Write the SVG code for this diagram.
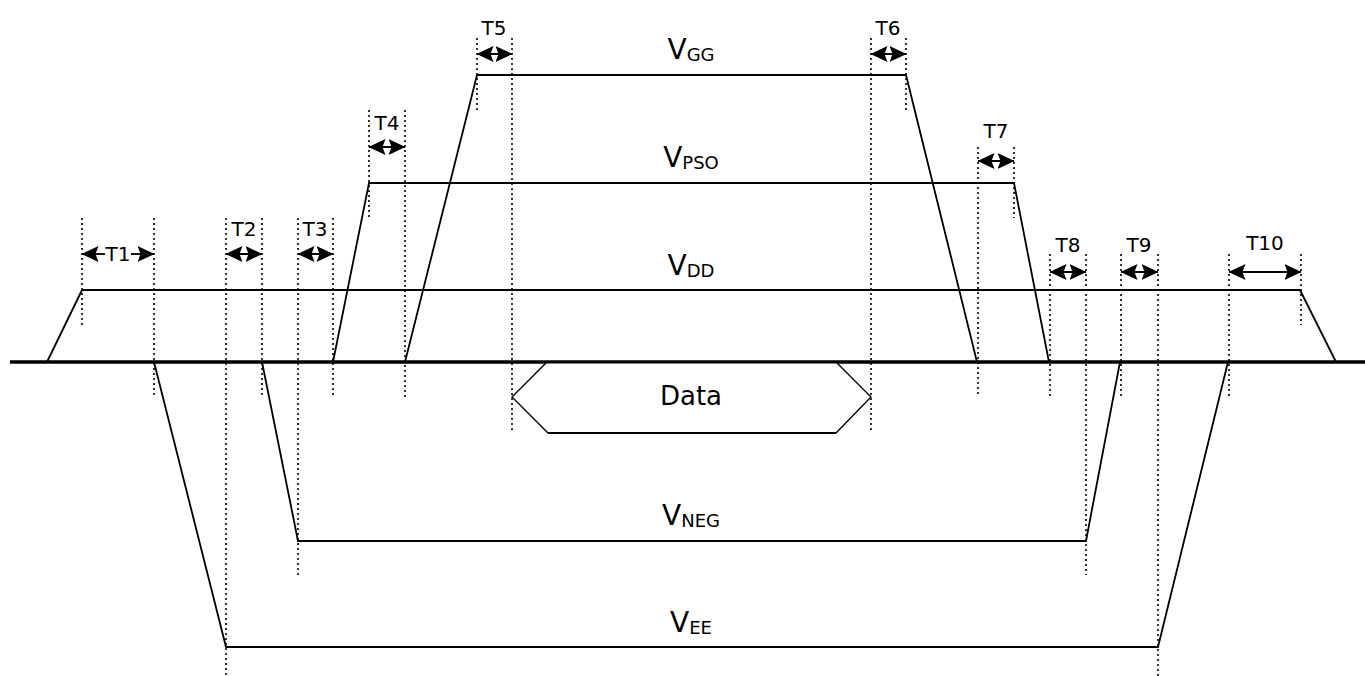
<svg xmlns="http://www.w3.org/2000/svg" width="1365" height="676" viewBox="0 0 1365 676">
<style>
.sig{fill:none;stroke:#000;stroke-width:1.8;stroke-linejoin:miter}
.base{stroke:#000;stroke-width:3}
.dot{stroke:#000;stroke-width:1.6;stroke-dasharray:2 3;fill:none}
.arr{stroke:#000;stroke-width:1.8;fill:none;marker-start:url(#ah);marker-end:url(#ah)}
.arr1{stroke:#000;stroke-width:1.8;fill:none;marker-end:url(#ah)}
.t{font-family:"DejaVu Sans",Verdana,sans-serif;font-size:20px;fill:#000;text-anchor:middle}
.v{font-family:"DejaVu Sans",Verdana,sans-serif;font-size:28px;fill:#000;text-anchor:middle}
.s{font-size:18px}
</style>
<defs>
<marker id="ah" markerUnits="userSpaceOnUse" viewBox="0 0 17 16" refX="16.5" refY="8" markerWidth="17" markerHeight="16" orient="auto-start-reverse">
<path d="M0,0 L17,8 L0,16 L3,8 Z" fill="#000"/>
</marker>
</defs>
<rect width="1365" height="676" fill="#fff"/>
<g id="guides">
<line class="dot" x1="82" y1="218" x2="82" y2="325"/>
<line class="dot" x1="154" y1="218" x2="154" y2="397"/>
<line class="dot" x1="226" y1="218" x2="226" y2="676"/>
<line class="dot" x1="262" y1="218" x2="262" y2="397"/>
<line class="dot" x1="298" y1="218" x2="298" y2="575"/>
<line class="dot" x1="333" y1="218" x2="333" y2="397"/>
<line class="dot" x1="369" y1="110" x2="369" y2="218"/>
<line class="dot" x1="405" y1="110" x2="405" y2="397"/>
<line class="dot" x1="477" y1="38" x2="477" y2="110"/>
<line class="dot" x1="512" y1="38" x2="512" y2="433"/>
<line class="dot" x1="871" y1="38" x2="871" y2="433"/>
<line class="dot" x1="906" y1="38" x2="906" y2="110"/>
<line class="dot" x1="978" y1="147" x2="978" y2="397"/>
<line class="dot" x1="1014" y1="147" x2="1014" y2="218"/>
<line class="dot" x1="1050" y1="254" x2="1050" y2="397"/>
<line class="dot" x1="1086" y1="254" x2="1086" y2="575"/>
<line class="dot" x1="1121" y1="254" x2="1121" y2="397"/>
<line class="dot" x1="1158" y1="254" x2="1158" y2="676"/>
<line class="dot" x1="1229" y1="254" x2="1229" y2="397"/>
<line class="dot" x1="1301" y1="254" x2="1301" y2="325"/>
</g>
<g id="baseline">
<line class="base" x1="10" y1="362" x2="1365" y2="362"/>
</g>
<g id="VDD">
<polyline class="sig" points="47,362 82,290 1300,290 1336,362"/>
<text class="v" x="691" y="275">V<tspan class="s" dy="2">DD</tspan></text>
</g>
<g id="VPSO">
<polyline class="sig" points="333,362 369,183 1014,183 1049,362"/>
<text class="v" x="691" y="167">V<tspan class="s" dy="2">PSO</tspan></text>
</g>
<g id="VGG">
<polyline class="sig" points="405,362 477,75 906,75 977,362"/>
<text class="v" x="691" y="59">V<tspan class="s" dy="2">GG</tspan></text>
</g>
<g id="VNEG">
<polyline class="sig" points="262,362 298,541 1086,541 1120,362"/>
<text class="v" x="691" y="525">V<tspan class="s" dy="2">NEG</tspan></text>
</g>
<g id="VEE">
<polyline class="sig" points="154,362 226,647 1158,647 1228,362"/>
<text class="v" x="691" y="632">V<tspan class="s" dy="2">EE</tspan></text>
</g>
<g id="Data">
<polygon points="512,397 547,362 836,362 871,397 836,433 548,433" fill="#fff" stroke="#000" stroke-width="1.3"/>
<line x1="548" y1="433" x2="836" y2="433" stroke="#000" stroke-width="2"/>
<line x1="10" y1="362" x2="1365" y2="362" stroke="#000" stroke-width="3"/>
<text class="v" x="691" y="405" style="font-size:26px">Data</text>
</g>
<g id="connectors">
<line class="arr1" x1="105" y1="254" x2="82" y2="254"/>
<line class="arr1" x1="131" y1="254" x2="154" y2="254"/>
<line class="arr" x1="226" y1="254" x2="262" y2="254"/>
<line class="arr" x1="298" y1="254" x2="333" y2="254"/>
<line class="arr" x1="369" y1="147" x2="405" y2="147"/>
<line class="arr" x1="477" y1="54" x2="512" y2="54"/>
<line class="arr" x1="871" y1="54" x2="906" y2="54"/>
<line class="arr" x1="978" y1="161" x2="1014" y2="161"/>
<line class="arr" x1="1050" y1="272" x2="1086" y2="272"/>
<line class="arr" x1="1121" y1="272" x2="1158" y2="272"/>
<line class="arr" x1="1229" y1="272" x2="1301" y2="272"/>
</g>
<g id="labels">
<text class="t" x="118" y="261">T1</text>
<text class="t" x="244" y="236">T2</text>
<text class="t" x="315" y="236">T3</text>
<text class="t" x="387" y="130">T4</text>
<text class="t" x="494" y="35">T5</text>
<text class="t" x="888" y="35">T6</text>
<text class="t" x="996" y="138">T7</text>
<text class="t" x="1068" y="252">T8</text>
<text class="t" x="1139" y="252">T9</text>
<text class="t" x="1265" y="250">T10</text>
</g>
</svg>
